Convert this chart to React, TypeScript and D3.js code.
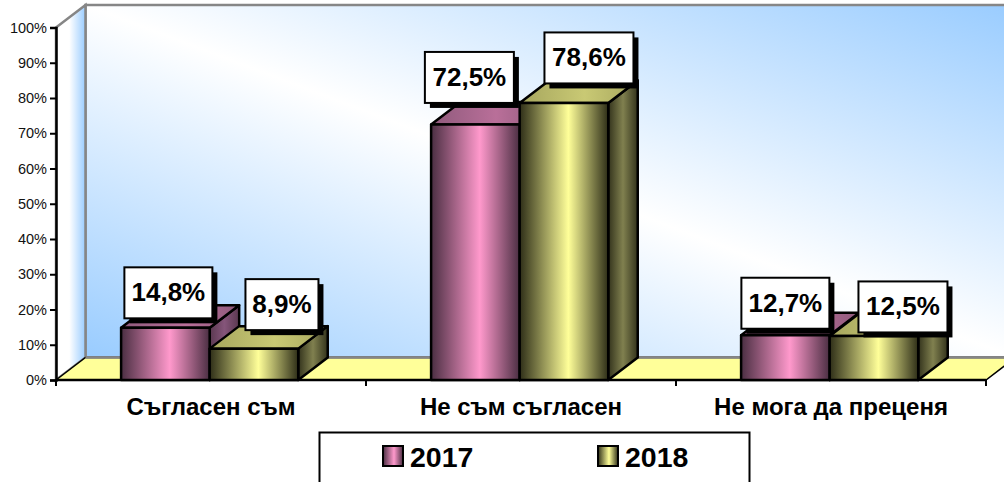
// App.tsx
import React, { useRef, useEffect } from 'react';
import * as d3 from 'd3';

const categories = ['Съгласен съм', 'Не съм съгласен', 'Не мога да преценя'];
const seriesNames = ['2017', '2018'];
const values2017 = [14.8, 72.5, 12.7];
const values2018 = [8.9, 78.6, 12.5];
const valueLabels2017 = ['14,8%', '72,5%', '12,7%'];
const valueLabels2018 = ['8,9%', '78,6%', '12,5%'];
const tickValues = [0, 10, 20, 30, 40, 50, 60, 70, 80, 90, 100];

// label box centre, relative to the top front centre of its bar
const labelOffsets2017 = [[3, -35], [-6, -47], [0, -32]];
const labelOffsets2018 = [[28, -44], [25, -45], [29, -29]];
const labelWidths2017 = [88, 89, 88];
const labelWidths2018 = [73, 89, 89];

const WIDTH = 1004;
const HEIGHT = 482;
const left = 56;
const right = 986;
const bottom = 380;
const top = 27.5;
const depthX = 29.5;
const depthY = 22.5;
const font = '"Liberation Sans", Arial, sans-serif';

const palette = [
  { edge: '#4a2e42', mid: '#ff99cc', topEdge: '#8f5a7c', topMid: '#b96f99', sideEdge: '#5a3850', sideMid: '#85557a' },
  { edge: '#2e2e18', mid: '#ffff99', topEdge: '#a6a65e', topMid: '#c9c974', sideEdge: '#33331c', sideMid: '#80804f' },
];

const App = () => {
  const ref = useRef<SVGSVGElement>(null);

  useEffect(() => {
    const svg = d3.select(ref.current);
    svg.selectAll('*').remove();

    const y = d3.scaleLinear().domain([0, 100]).range([bottom, top]);
    const x0 = d3.scaleBand().domain(categories).range([left, right]);
    const x1 = d3.scaleBand().domain(seriesNames).range([0, x0.bandwidth()]).paddingOuter(0.75).paddingInner(0).align(0.49);

    const defs = svg.append('defs');
    const addGradient = (id, stops, coords) => {
      const g = defs.append('linearGradient').attr('id', id)
        .attr('x1', coords[0]).attr('y1', coords[1]).attr('x2', coords[2]).attr('y2', coords[3]);
      stops.forEach(([o, c]) => g.append('stop').attr('offset', o).attr('stop-color', c));
    };
    addGradient('wall', [[0, '#99ccff'], [0.5, '#ffffff'], [1, '#99ccff']], [0, 1, 1, 0]);
    addGradient('sideWall', [[0, '#ffffff'], [0.45, '#ffffff'], [1, '#99ccff']], [0, 0, 1, 0]);
    palette.forEach((p, i) => {
      addGradient(`front${i}`, [[0, p.edge], [0.55, p.mid], [1, p.edge]], [0, 0, 1, 0]);
      addGradient(`top${i}`, [[0, p.topEdge], [0.55, p.topMid], [1, p.topEdge]], [0, 0, 1, 0]);
      addGradient(`side${i}`, [[0, p.sideEdge], [0.5, p.sideMid], [1, p.sideEdge]], [0, 0, 1, 0]);
    });

    const poly = (pts) => d3.line()(pts) + 'Z';
    const wallLeft = left + depthX;
    const wallRight = right + depthX;

    // walls and floor
    svg.append('path')
      .attr('d', poly([[wallLeft, y(100) - depthY], [wallRight, y(100) - depthY], [wallRight, bottom - depthY], [wallLeft, bottom - depthY]]))
      .attr('fill', 'url(#wall)').attr('stroke', '#868686').attr('stroke-width', 2.5);
    svg.append('path')
      .attr('d', poly([[left, y(100)], [wallLeft, y(100) - depthY], [wallLeft, bottom - depthY], [left, bottom]]))
      .attr('fill', 'url(#sideWall)').attr('stroke', '#868686').attr('stroke-width', 2.5);
    svg.append('path')
      .attr('d', poly([[left, bottom], [wallLeft, bottom - depthY], [wallRight, bottom - depthY], [right, bottom]]))
      .attr('fill', '#ffff99').attr('stroke', '#000').attr('stroke-width', 1.5);
    svg.append('line')
      .attr('x1', wallLeft).attr('x2', wallRight).attr('y1', bottom - depthY).attr('y2', bottom - depthY)
      .attr('stroke', '#868686').attr('stroke-width', 2.5);

    // axes
    const yAxis = svg.append('g')
      .attr('transform', `translate(${left},0)`)
      .call(d3.axisLeft(y).tickValues(tickValues).tickSize(6).tickPadding(3).tickFormat(d => `${d}%`));
    yAxis.select('.domain').attr('stroke', '#000').attr('stroke-width', 2.5);
    yAxis.selectAll('.tick line').attr('stroke', '#000').attr('stroke-width', 2);
    yAxis.selectAll('text').attr('font-family', font).attr('font-size', 14.5).attr('fill', '#111');

    svg.append('line').attr('x1', left).attr('x2', right).attr('y1', bottom).attr('y2', bottom)
      .attr('stroke', '#000').attr('stroke-width', 2.5);
    svg.selectAll('.catTick')
      .data([...categories.map(c => x0(c)), right])
      .enter().append('line')
      .attr('x1', d => d).attr('x2', d => d).attr('y1', bottom).attr('y2', bottom + 6)
      .attr('stroke', '#000').attr('stroke-width', 2);

    svg.selectAll('.catLabel')
      .data(categories)
      .enter().append('text')
      .attr('x', d => x0(d) + x0.bandwidth() / 2)
      .attr('y', 415)
      .attr('text-anchor', 'middle')
      .attr('font-family', font).attr('font-weight', 'bold').attr('font-size', 24)
      .attr('fill', '#000')
      .text(d => d);

    // bars
    const series = [values2017, values2018];
    const barStroke = { stroke: '#000', width: 2.5 };
    categories.forEach((cat, c) => {
      seriesNames.forEach((name, s) => {
        const xa = x0(cat) + x1(name);
        const xb = xa + x1.bandwidth();
        const yt = y(series[s][c]);
        const g = svg.append('g')
          .attr('stroke', barStroke.stroke).attr('stroke-width', barStroke.width).attr('stroke-linejoin', 'round');
        g.append('path')
          .attr('d', poly([[xb, yt], [xb + depthX, yt - depthY], [xb + depthX, bottom - depthY], [xb, bottom]]))
          .attr('fill', `url(#side${s})`);
        g.append('path')
          .attr('d', poly([[xa, yt], [xa + depthX, yt - depthY], [xb + depthX, yt - depthY], [xb, yt]]))
          .attr('fill', `url(#top${s})`);
        g.append('rect')
          .attr('x', xa).attr('y', yt).attr('width', xb - xa).attr('height', bottom - yt)
          .attr('fill', `url(#front${s})`);
      });
    });

    // value labels
    const labelTexts = [valueLabels2017, valueLabels2018];
    const labelOffsets = [labelOffsets2017, labelOffsets2018];
    const labelWidths = [labelWidths2017, labelWidths2018];
    const boxH = 51;
    categories.forEach((cat, c) => {
      seriesNames.forEach((name, s) => {
        const cx = x0(cat) + x1(name) + x1.bandwidth() / 2 + labelOffsets[s][c][0];
        const cy = y(series[s][c]) + labelOffsets[s][c][1];
        const w = labelWidths[s][c];
        svg.append('rect')
          .attr('x', cx - w / 2 + 5).attr('y', cy - boxH / 2 + 5).attr('width', w).attr('height', boxH)
          .attr('fill', '#000');
        svg.append('rect')
          .attr('x', cx - w / 2).attr('y', cy - boxH / 2).attr('width', w).attr('height', boxH)
          .attr('fill', '#fff').attr('stroke', '#000').attr('stroke-width', 2);
        svg.append('text')
          .attr('x', cx).attr('y', cy + 8.5)
          .attr('text-anchor', 'middle')
          .attr('font-family', font).attr('font-weight', 'bold').attr('font-size', 26)
          .attr('fill', '#000')
          .text(labelTexts[s][c]);
      });
    });

    // legend, runs off the bottom of the picture
    svg.append('rect')
      .attr('x', 319.5).attr('y', 432.5).attr('width', 430).attr('height', 70)
      .attr('fill', '#fff').attr('stroke', '#000').attr('stroke-width', 2);
    const legendX = d3.scalePoint().domain(seriesNames).range([383, 598]);
    seriesNames.forEach((name, s) => {
      svg.append('rect')
        .attr('x', legendX(name)).attr('y', 446).attr('width', 20).attr('height', 20)
        .attr('fill', `url(#front${s})`).attr('stroke', '#000').attr('stroke-width', 2);
      svg.append('text')
        .attr('x', legendX(name) + 27).attr('y', 467)
        .attr('font-family', font).attr('font-weight', 'bold').attr('font-size', 28.5)
        .attr('fill', '#000')
        .text(name);
    });
  }, []);

  return (
    <svg
      ref={ref}
      width={WIDTH}
      height={HEIGHT}
      style={{ position: 'absolute', left: 0, top: 0, background: '#fff' }}
    />
  );
};

export default App;
